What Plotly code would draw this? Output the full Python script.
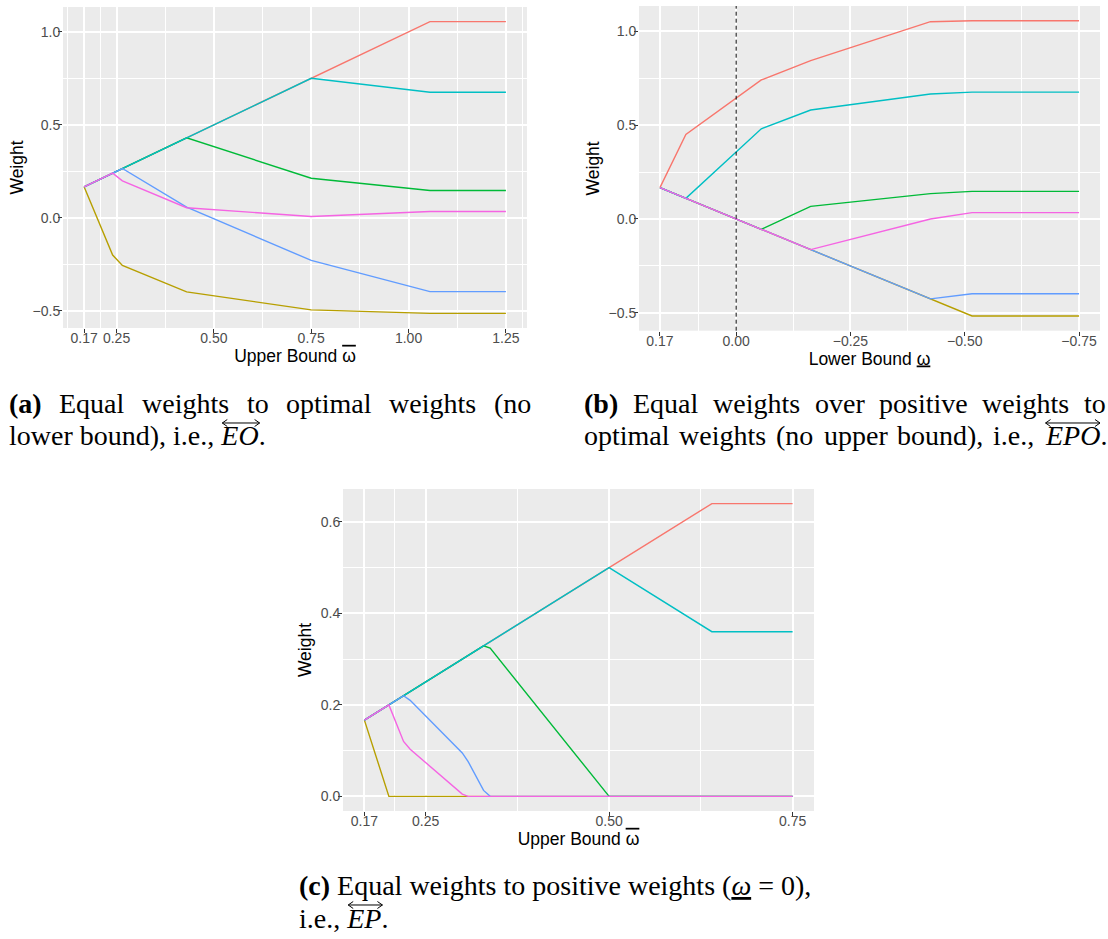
import plotly.graph_objects as go

W, H = 1108, 939
SANS = "Liberation Sans, Arial, sans-serif"
SERIF = "Liberation Serif, Times New Roman, serif"

series_names = ["w1", "w2", "w3", "w4", "w5", "w6"]
series_colors = ["#F8766D", "#B79F00", "#00BA38", "#00BFC4", "#619CFF", "#F564E3"]

# ---------------- Panel (a): equal -> optimal (upper bound) ----------------
a_upper = [1 / 6, 0.240, 0.265, 0.430, 0.750, 1.055, 1.250]
a_w1 = [0.1667, 0.240, 0.265, 0.430, 0.750, 1.055, 1.055]
a_w2 = [0.1667, -0.200, -0.256, -0.398, -0.495, -0.514, -0.514]
a_w3 = [0.1667, 0.240, 0.265, 0.430, 0.213, 0.147, 0.147]
a_w4 = [0.1667, 0.240, 0.265, 0.430, 0.750, 0.675, 0.675]
a_w5 = [0.1667, 0.240, 0.265, 0.057, -0.229, -0.397, -0.397]
a_w6 = [0.1667, 0.240, 0.199, 0.054, 0.007, 0.034, 0.034]

# ---------------- Panel (b): equal -> positive -> optimal (lower bound) ----------------
b_lower = [1 / 6, 0.110, -0.055, -0.163, -0.425, -0.516, -0.750]
b_w1 = [0.1667, 0.450, 0.740, 0.843, 1.050, 1.055, 1.055]
b_w2 = [0.1667, 0.110, -0.055, -0.163, -0.425, -0.516, -0.516]
b_w3 = [0.1667, 0.110, -0.055, 0.067, 0.135, 0.147, 0.147]
b_w4 = [0.1667, 0.110, 0.480, 0.580, 0.665, 0.675, 0.675]
b_w5 = [0.1667, 0.110, -0.055, -0.163, -0.425, -0.398, -0.398]
b_w6 = [0.1667, 0.110, -0.055, -0.163, 0.000, 0.034, 0.034]

# ---------------- Panel (c): equal -> positive (upper bound) ----------------
c_upper = [1 / 6, 0.200, 0.220, 0.229, 0.300, 0.308, 0.329, 0.338, 0.500, 0.640, 0.750]
c_w1 = [0.1667, 0.200, 0.220, 0.229, 0.300, 0.308, 0.329, 0.338, 0.500, 0.640, 0.640]
c_w2 = [0.1667, 0.000, 0.000, 0.000, 0.000, 0.000, 0.000, 0.000, 0.000, 0.000, 0.000]
c_w3 = [0.1667, 0.200, 0.220, 0.229, 0.300, 0.308, 0.329, 0.324, 0.000, 0.000, 0.000]
c_w4 = [0.1667, 0.200, 0.220, 0.229, 0.300, 0.308, 0.329, 0.338, 0.500, 0.360, 0.360]
c_w5 = [0.1667, 0.200, 0.220, 0.210, 0.095, 0.076, 0.013, 0.000, 0.000, 0.000, 0.000]
c_w6 = [0.1667, 0.200, 0.120, 0.103, 0.005, 0.000, 0.000, 0.000, 0.000, 0.000, 0.000]

# ---------------- ticks ----------------
a_xtickvals = [1 / 6, 0.25, 0.50, 0.75, 1.00, 1.25]
a_xticktext = ["0.17", "0.25", "0.50", "0.75", "1.00", "1.25"]
a_xminor = [0.125, 0.2083, 0.375, 0.625, 0.875, 1.125, 1.2917]
ab_ytickvals = [-0.5, 0.0, 0.5, 1.0]
ab_yticktext = ["\u22120.5", "0.0", "0.5", "1.0"]
ab_yminor = [-0.25, 0.25, 0.75]
b_xtickvals = [1 / 6, 0.0, -0.25, -0.50, -0.75]
b_xticktext = ["0.17", "0.00", "\u22120.25", "\u22120.50", "\u22120.75"]
b_xminor = [0.0833, -0.125, -0.375, -0.625]
c_xtickvals = [1 / 6, 0.25, 0.50, 0.75]
c_xticktext = ["0.17", "0.25", "0.50", "0.75"]
c_xminor = [0.2083, 0.375, 0.625]
c_ytickvals = [0.0, 0.2, 0.4, 0.6]
c_yticktext = ["0.0", "0.2", "0.4", "0.6"]
c_yminor = [0.1, 0.3, 0.5]


def px_x(x):
    return x / W


def px_y(y):
    return 1 - y / H


def expand(lo, hi, mult=0.05):
    r = hi - lo
    return [lo - mult * r, hi + mult * r]


fig = go.Figure()

panels = [
    ("x", "y", a_upper, [a_w1, a_w2, a_w3, a_w4, a_w5, a_w6]),
    ("x2", "y2", b_lower, [b_w1, b_w2, b_w3, b_w4, b_w5, b_w6]),
    ("x3", "y3", c_upper, [c_w1, c_w2, c_w3, c_w4, c_w5, c_w6]),
]
for xa, ya, xs, ws in panels:
    for name, col, ys in zip(series_names, series_colors, ws):
        fig.add_trace(go.Scatter(x=xs, y=ys, mode="lines", name=name,
                                 line=dict(color=col, width=1.4),
                                 xaxis=xa, yaxis=ya, showlegend=False))


def ycol(ws):
    vals = [v for s in ws for v in s]
    return min(vals), max(vals)


def axis(domain, rng, tickvals, ticktext, minor_vals, anchor, title, letter):
    d = dict(domain=domain, range=rng, tickmode="array", tickvals=tickvals, ticktext=ticktext,
             tickangle=0, ticks="outside", ticklen=4, tickwidth=1, tickcolor="#333333",
             tickfont=dict(family=SANS, size=14, color="#4D4D4D"),
             ticklabelstandoff=(-7 if letter == "x" else -5),
             showgrid=True, gridcolor="white", gridwidth=1.5,
             minor=dict(tickmode="array", tickvals=minor_vals, showgrid=True,
                        gridcolor="white", gridwidth=0.8),
             zeroline=False, showline=False, anchor=anchor, automargin=False,
             title=dict(text=title, font=dict(family=SANS, size=17.5, color="black"),
                        standoff=4))
    return d


a_yr = expand(*ycol([a_w1, a_w2, a_w3, a_w4, a_w5, a_w6]))
b_yr = expand(*ycol([b_w1, b_w2, b_w3, b_w4, b_w5, b_w6]))
c_yr = expand(*ycol([c_w1, c_w2, c_w3, c_w4, c_w5, c_w6]))
a_xr = expand(min(a_upper), max(a_upper))
b_xr = expand(min(b_lower), max(b_lower))[::-1]
c_xr = expand(min(c_upper), max(c_upper))

upper_title = 'Upper Bound <span style="text-decoration:overline">\u03c9</span>'
lower_title = "Lower Bound <u>\u03c9</u>"

fig.update_layout(
    width=W, height=H, margin=dict(l=0, r=0, t=0, b=0),
    paper_bgcolor="white", plot_bgcolor="#EBEBEB",
    xaxis=axis([px_x(63), px_x(527)], a_xr, a_xtickvals, a_xticktext, a_xminor, "y", upper_title, "x"),
    yaxis=axis([px_y(328), px_y(7)], a_yr, ab_ytickvals, ab_yticktext, ab_yminor, "x", "Weight", "y"),
    xaxis2=axis([px_x(639), px_x(1100)], b_xr, b_xtickvals, b_xticktext, b_xminor, "y2", lower_title, "x"),
    yaxis2=axis([px_y(330.7), px_y(6)], b_yr, ab_ytickvals, ab_yticktext, ab_yminor, "x2", "Weight", "y"),
    xaxis3=axis([px_x(343), px_x(814)], c_xr, c_xtickvals, c_xticktext, c_xminor, "y3", upper_title, "x"),
    yaxis3=axis([px_y(811), px_y(489)], c_yr, c_ytickvals, c_yticktext, c_yminor, "x3", "Weight", "y"),
)

# dashed vertical line at lower bound 0 in panel (b)
fig.add_shape(type="line", xref="x2", yref="y2 domain", x0=0, x1=0, y0=0, y1=1,
              line=dict(color="black", width=1, dash="4px,3px"))

# ---------------- captions ----------------
TIMES = {" ": 250, "(": 333, ")": 333, ",": 250, ".": 250, "=": 564, "0": 500,
         "a": 444, "b": 500, "c": 444, "d": 500, "e": 444, "g": 500, "h": 500, "i": 278,
         "l": 278, "m": 778, "n": 500, "o": 500, "p": 500, "q": 500, "r": 333, "s": 389,
         "t": 278, "u": 500, "v": 500, "w": 722, "E": 611, "O": 722, "P": 611}
TIMES_BOLD = {"(": 333, ")": 333, "a": 500, "b": 556, "c": 444}
CAP_SIZE = 28


def tw(s, bold=False):
    table = TIMES_BOLD if bold else TIMES
    return sum(table.get(ch, 500) for ch in s) * CAP_SIZE / 1000


def add_text(text, x, yc):
    fig.add_annotation(xref="paper", yref="paper", x=px_x(x), y=px_y(yc), text=text,
                       showarrow=False, xanchor="left", yanchor="middle", borderpad=0,
                       font=dict(family=SERIF, size=CAP_SIZE, color="black"))


def justified(items, x0, x1, yc):
    """items: list of (plain_text, display_text, bold)."""
    widths = [tw(p, b) for p, d, b in items]
    gap = (x1 - x0 - sum(widths)) / (len(items) - 1)
    x = x0
    starts = []
    for (p, d, b), wd in zip(items, widths):
        add_text(d, x, yc)
        starts.append(x)
        x += wd + gap
    return starts


def over_arrow(xl, xr, y):
    path = "M %f,%f L %f,%f" % (px_x(xl), px_y(y), px_x(xr), px_y(y))
    path += " M %f,%f L %f,%f L %f,%f" % (px_x(xl + 5), px_y(y - 3.5), px_x(xl), px_y(y),
                                           px_x(xl + 5), px_y(y + 3.5))
    path += " M %f,%f L %f,%f L %f,%f" % (px_x(xr - 5), px_y(y - 3.5), px_x(xr), px_y(y),
                                           px_x(xr - 5), px_y(y + 3.5))
    fig.add_shape(type="path", xref="paper", yref="paper", path=path,
                  line=dict(color="black", width=1))


def words(line_text, bold_first=False):
    out = []
    for i, w in enumerate(line_text.split(" ")):
        b = bold_first and i == 0
        out.append((w, "<b>%s</b>" % w if b else w, b))
    return out


# (a)
justified(words("(a) Equal weights to optimal weights (no", True), 8, 530, 403)
pre_a = "lower bound), i.e., "
add_text(pre_a + "<i>EO</i>.", 8, 435)
xa0 = 8 + tw(pre_a)
over_arrow(xa0 + 2, xa0 + tw("EO") + 2, 423)

# (b)
justified(words("(b) Equal weights over positive weights to", True), 583, 1105, 403)
b2 = words("optimal weights (no upper bound), i.e.,") + [("EPO.", "<i>EPO</i>.", False)]
starts = justified(b2, 583, 1105, 435)
over_arrow(starts[-1] + 2, starts[-1] + tw("EPO") + 2, 423)

# (c)
add_text("<b>(c)</b> Equal weights to positive weights (<u><i>\u03c9</i></u> = 0),", 298, 885)
pre_c = "i.e., "
add_text(pre_c + "<i>EP</i>.", 298, 918)
xc0 = 298 + tw(pre_c)
over_arrow(xc0 + 2, xc0 + tw("EP") + 2, 905)

fig.write_html("out.html", config={"displayModeBar": False},
               post_script="document.body.style.margin='0px';")
